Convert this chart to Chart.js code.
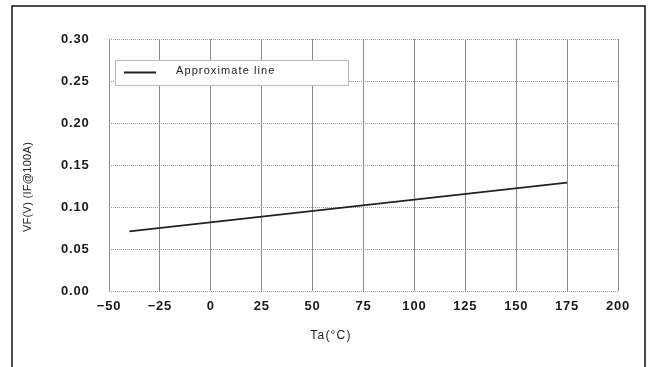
<!DOCTYPE html>
<html>
<head>
<meta charset="utf-8">
<script src="https://cdn.jsdelivr.net/npm/chart.js@4"></script>
<style>
html,body{margin:0;padding:0;background:#fff;}
#wrap{width:651px;height:367px;}
</style>
</head>
<body>
<div id="wrap"><canvas id="c" width="651" height="367"></canvas></div>
<script>
// Data
const seriesLabel = 'Approximate line';
const tempValues = [-40, 175];          // Ta (°C)
const vfValues = [0.071, 0.129];        // VF (V) @ IF=100A
const xTickLabels = ['-50','-25','0','25','50','75','100','125','150','175','200'];
const yTickLabels = ['0.00','0.05','0.10','0.15','0.20','0.25','0.30'];
const xTitle = 'Ta(°C)';
const yTitle = 'VF(V) (IF@100A)';

const FONT = '"Liberation Sans", Arial, sans-serif';

const framePlugin = {
  id: 'frame',
  beforeDraw(chart) {
    const ctx = chart.ctx;
    ctx.save();
    ctx.fillStyle = '#fff';
    ctx.fillRect(0, 0, chart.width, chart.height);
    ctx.strokeStyle = '#111';
    ctx.lineWidth = 1.5;
    ctx.beginPath();
    ctx.moveTo(12, chart.height);
    ctx.lineTo(12, 6);
    ctx.lineTo(645, 6);
    ctx.lineTo(645, chart.height);
    ctx.stroke();
    ctx.restore();
    ctx.letterSpacing = '0.8px';
  },
  afterDraw(chart) {
    const ctx = chart.ctx;
    const ds = chart.data.datasets[0];
    ctx.save();
    // legend box
    ctx.fillStyle = '#fff';
    ctx.strokeStyle = '#bbb';
    ctx.lineWidth = 1;
    ctx.fillRect(115.5, 60.5, 233, 25);
    ctx.strokeRect(115.5, 60.5, 233, 25);
    ctx.strokeStyle = ds.borderColor;
    ctx.lineWidth = 2;
    ctx.beginPath();
    ctx.moveTo(124, 72.5);
    ctx.lineTo(156, 72.5);
    ctx.stroke();
    ctx.letterSpacing = '1.1px';
    ctx.fillStyle = '#222';
    ctx.font = '11px ' + FONT;
    ctx.textBaseline = 'middle';
    ctx.textAlign = 'left';
    ctx.fillText(ds.label, 176, 71);
    // x title
    ctx.letterSpacing = '1.2px';
    ctx.font = '12px ' + FONT;
    ctx.textAlign = 'center';
    ctx.fillText(xTitle, 331, 336);
    // y title
    ctx.letterSpacing = '0.3px';
    ctx.translate(28, 187);
    ctx.rotate(-Math.PI / 2);
    ctx.font = '11px ' + FONT;
    ctx.fillText(yTitle, 0, 0);
    ctx.restore();
  }
};

const fmtX = (v) => {
  const idx = Math.round((v + 50) / 25);
  const s = xTickLabels[idx] !== undefined ? xTickLabels[idx] : String(v);
  return s.replace('-', '\u2212');
};
const fmtY = (v) => {
  const idx = Math.round(v / 0.05);
  return yTickLabels[idx] !== undefined ? yTickLabels[idx] : v.toFixed(2);
};

new Chart(document.getElementById('c'), {
  type: 'line',
  data: {
    datasets: [{
      label: seriesLabel,
      data: tempValues.map((x, i) => ({ x: x, y: vfValues[i] })),
      borderColor: '#222',
      borderWidth: 1.6,
      pointRadius: 0,
      tension: 0,
      fill: false
    }]
  },
  options: {
    responsive: false,
    animation: false,
    devicePixelRatio: 1,
    layout: { padding: { top: 39, right: 33, left: 0, bottom: 0 } },
    plugins: { legend: { display: false }, tooltip: { enabled: false } },
    scales: {
      x: {
        type: 'linear',
        min: -50, max: 200,
        afterFit: (s) => { s.height = 76; },
        ticks: { stepSize: 25, padding: 8, color: '#1a1a1a', font: { family: FONT, size: 13, weight: 'bold' }, callback: fmtX, maxRotation: 0, autoSkip: false },
        grid: { color: '#8c8c8c', lineWidth: 1, drawTicks: false },
        border: { display: false }
      },
      y: {
        type: 'linear',
        min: 0, max: 0.3,
        afterFit: (s) => { s.width = 109; },
        ticks: { stepSize: 0.05, padding: 19.5, color: '#1a1a1a', font: { family: FONT, size: 13, weight: 'bold' }, callback: fmtY },
        grid: { color: '#9a9a9a', lineWidth: 1, drawTicks: false },
        border: { display: false, dash: [1, 1] }
      }
    }
  },
  plugins: [framePlugin]
});
</script>
</body>
</html>
